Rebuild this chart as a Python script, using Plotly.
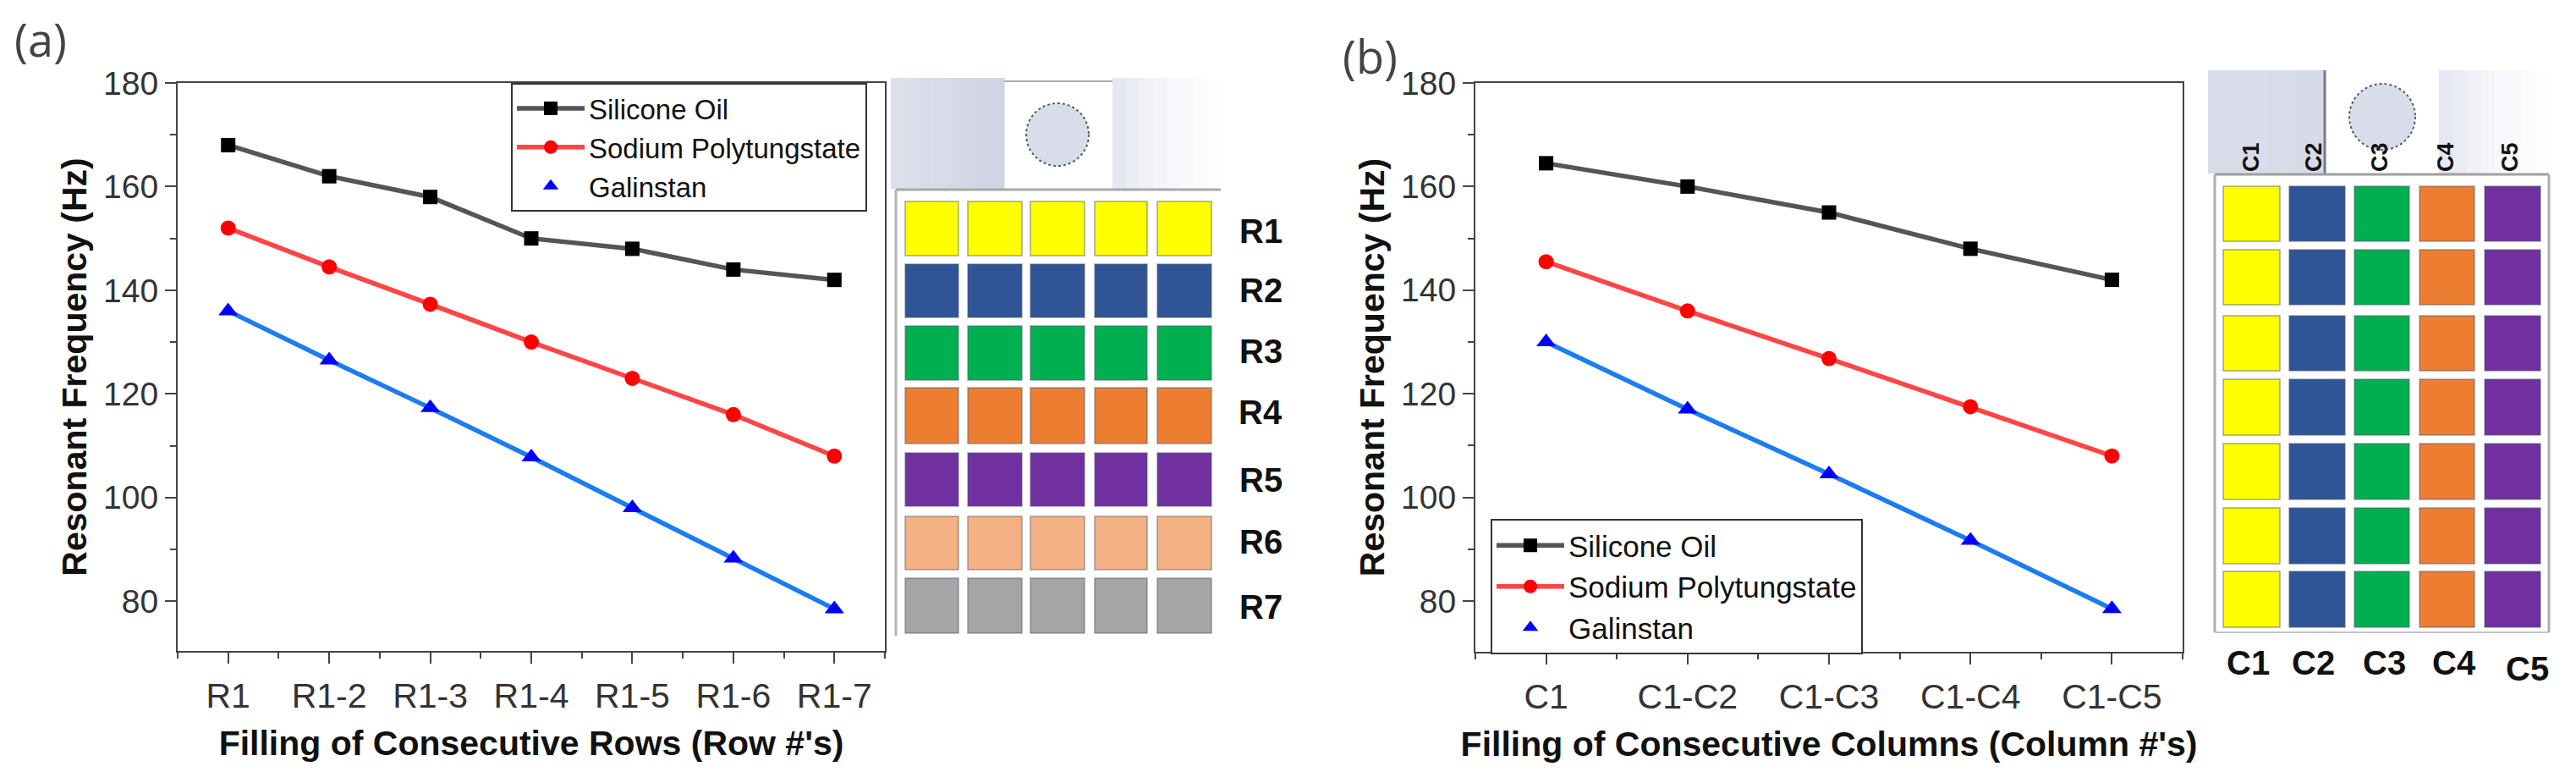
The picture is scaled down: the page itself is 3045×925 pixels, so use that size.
import plotly.graph_objects as go

W, H = 3045, 925

row_labels = ["R1", "R1-2", "R1-3", "R1-4", "R1-5", "R1-6", "R1-7"]
row_silicone = [168, 162, 158, 150, 148, 144, 142]
row_sodium = [152, 144.5, 137.3, 130, 123, 116, 108]
row_galinstan = [136, 126.5, 117.3, 107.8, 98, 88.3, 78.5]

col_labels = ["C1", "C1-C2", "C1-C3", "C1-C4", "C1-C5"]
col_silicone = [164.5, 160, 155, 148, 142]
col_sodium = [145.5, 136, 126.8, 117.5, 108]
col_galinstan = [130, 117, 104.5, 91.7, 78.5]

series_names = ["Silicone Oil", "Sodium Polytungstate", "Galinstan"]
line_colors = ["#555555", "#ff4545", "#1c7cf0"]
marker_colors = ["#000000", "#ff0000", "#0000ff"]
marker_symbols = ["square", "circle", "triangle-up"]
marker_sizes = [17, 18, 20]

y_ticks = [80, 100, 120, 140, 160, 180]
fill_colors = ["#ffff00", "#2f5597", "#00b050", "#ed7d31", "#7030a0", "#f4b183", "#a5a5a5"]

# schematic geometry, in picture pixels
a_col_x = [(1070, 1133), (1144, 1208), (1218, 1282), (1294, 1356), (1368, 1432)]
a_row_y = [(238, 302), (312, 375), (385, 449), (458, 524), (535, 598), (610, 673), (683, 748)]
a_label_y = [273, 343, 415, 487, 567, 640, 717]
b_col_x = [(2628, 2695), (2706, 2772), (2783, 2848), (2860, 2925), (2937, 3003)]
b_row_y = [(220, 285), (295, 360), (373, 438), (448, 514), (524, 590), (600, 666), (675, 741)]
b_top_x = [2661, 2735, 2813, 2891, 2967]
b_bot_x = [2657, 2734, 2818, 2901, 2987]
b_bot_y = [783, 783, 783, 783, 790]
fade = ["#e6e8f1", "#ebedf4", "#f0f1f6", "#f4f5f9", "#f7f8fb", "#fafafc", "#fcfcfe", "#fefeff"]
shade = ["#dde0eb", "#dbdfea", "#dadde9", "#d8dce8", "#d6dae6", "#d4d8e5", "#d2d6e4", "#d0d5e3"]
b_shade = ["#d8dce8", "#d8dce8", "#d9dde9", "#d9dde9", "#d8dce8", "#d8dce8", "#d7dbe7", "#d7dbe7"]


def px(x):
    return x / W


def py(y):
    return 1 - y / H


def rect(x0, y0, x1, y1, fill, line=None, lw=0):
    return dict(type="rect", xref="paper", yref="paper", x0=px(x0), x1=px(x1), y0=py(y1), y1=py(y0),
                fillcolor=fill, line=dict(color=line or fill, width=lw), layer="above")


def seg(x0, y0, x1, y1, color, lw=2):
    return dict(type="line", xref="paper", yref="paper", x0=px(x0), x1=px(x1), y0=py(y0), y1=py(y1),
                line=dict(color=color, width=lw))


def bands(x0, x1, y0, y1, colors):
    step = (x1 - x0) / len(colors)
    return [rect(x0 + i * step, y0, x0 + (i + 1) * step + 0.5, y1, c) for i, c in enumerate(colors)]


def circle(cx, cy, r):
    return dict(type="circle", xref="paper", yref="paper", x0=px(cx - r), x1=px(cx + r), y0=py(cy + r), y1=py(cy - r),
                fillcolor="#d9dde9", line=dict(color="#555a66", width=2, dash="dot"))


def text(x, y, s, size, bold=True, angle=0, color="#111111", family="Liberation Sans"):
    return dict(xref="paper", yref="paper", x=px(x), y=py(y), text=f"<b>{s}</b>" if bold else s, showarrow=False,
                xanchor="center", yanchor="middle", textangle=angle, font=dict(size=size, color=color, family=family))


fig = go.Figure()


def add_series(xs, values, xa, ya, legend):
    for i, ys in enumerate(values):
        mk = dict(color=marker_colors[i], symbol=marker_symbols[i], size=marker_sizes[i])
        if i < 2:
            fig.add_trace(go.Scatter(x=xs, y=ys, mode="lines+markers", name=series_names[i], xaxis=xa, yaxis=ya,
                                     legend=legend, line=dict(color=line_colors[i], width=5.5), marker=mk))
        else:
            fig.add_trace(go.Scatter(x=xs, y=ys, mode="lines", showlegend=False, xaxis=xa, yaxis=ya,
                                     line=dict(color=line_colors[i], width=5.5)))
            fig.add_trace(go.Scatter(x=xs, y=ys, mode="markers", name=series_names[i], xaxis=xa, yaxis=ya,
                                     legend=legend, marker=mk))


add_series(list(range(1, 8)), [row_silicone, row_sodium, row_galinstan], "x", "y", "legend")
add_series(list(range(1, 6)), [col_silicone, col_sodium, col_galinstan], "x2", "y2", "legend2")

font_ytick = dict(size=39, color="#333333", family="Liberation Sans")
font_xtick = dict(size=41, color="#333333", family="Liberation Sans")
font_title = dict(size=41, color="#111111", family="Liberation Sans")
font_ytitle = dict(size=41, color="#111111", family="Liberation Sans")


def xaxis(dom, labels, title):
    n = len(labels)
    return dict(domain=[px(dom[0]), px(dom[1])], range=[0.5, n + 0.5], tickmode="array",
                tickvals=list(range(1, n + 1)), ticktext=labels, ticks="outside", ticklen=13, tickwidth=2,
                tickcolor="#444444", showline=True, linecolor="#444444", linewidth=2, mirror=True, showgrid=False,
                zeroline=False, tickfont=font_xtick, ticklabelstandoff=3,
                minor=dict(tick0=0.5, dtick=1, ticks="outside", ticklen=7, tickwidth=2, tickcolor="#444444", showgrid=False),
                title=dict(text=f"<b>{title}</b>", font=font_title, standoff=19))


def yaxis(dom, low, title, anchor):
    return dict(domain=[py(dom[1]), py(dom[0])], range=[low, 180], tickmode="array", tickvals=y_ticks,
                ticks="outside", ticklen=13, tickwidth=2, tickcolor="#444444", showline=True, linecolor="#444444",
                linewidth=2, mirror=True, showgrid=False, zeroline=False, tickfont=font_ytick, anchor=anchor,
                minor=dict(tick0=0, dtick=10, ticks="outside", ticklen=7, tickwidth=2, tickcolor="#444444", showgrid=False),
                title=dict(text=f"<b>{title}</b>", font=font_ytitle, standoff=7))


shapes = []
# panel (a) schematic
shapes += bands(1053, 1187, 92, 223, shade)
shapes += bands(1315, 1443, 92, 223, fade)
shapes.append(seg(1187, 96, 1315, 96, "#a9abb3", 2))
shapes.append(circle(1250, 159, 37))
shapes.append(seg(1059, 224, 1443, 224, "#a8a8a8", 3))
shapes.append(seg(1059, 224, 1059, 751, "#b4b4b4", 3))
for (y0, y1), c in zip(a_row_y, fill_colors):
    for x0, x1 in a_col_x:
        shapes.append(rect(x0, y0, x1, y1, c, "rgba(90,95,115,0.55)", 1.5))
# panel (b) schematic
shapes += bands(2610, 2748, 83, 205, b_shade)
shapes.append(seg(2748, 83, 2748, 205, "#77797f", 3))
shapes += bands(2883, 3015, 83, 205, fade)
shapes.append(circle(2816, 138, 39))
shapes.append(seg(2618, 206, 3013, 206, "#a0a0a0", 3))
shapes.append(seg(2618, 206, 2618, 747, "#b0b0b0", 3))
shapes.append(seg(3013, 206, 3013, 747, "#b0b0b0", 3))
shapes.append(seg(2618, 747, 3013, 747, "#c4c4c4", 2))
for (y0, y1) in b_row_y:
    for (x0, x1), c in zip(b_col_x, fill_colors[:5]):
        shapes.append(rect(x0, y0, x1, y1, c, "rgba(90,95,115,0.55)", 1.5))

ann = [text(48, 46, "(a)", 54, bold=False, color="#444444", family="Open Sans"),
       text(1619, 66, "(b)", 54, bold=False, color="#444444", family="Open Sans")]
for i, yc in enumerate(a_label_y):
    ann.append(text(1490, yc, f"R{i + 1}", 40))
for i, x in enumerate(b_top_x):
    ann.append(text(x, 186, f"C{i + 1}", 27, angle=-90))
for i, (x, y) in enumerate(zip(b_bot_x, b_bot_y)):
    ann.append(text(x, y, f"C{i + 1}", 40))

leg_common = dict(xanchor="left", yanchor="top", bgcolor="rgba(255,255,255,1)", bordercolor="#333333", borderwidth=2,
                  itemwidth=80, itemsizing="trace", traceorder="normal", entrywidthmode="pixels")

fig.update_layout(
    width=W, height=H, margin=dict(l=0, r=0, t=0, b=0, pad=0, autoexpand=False), paper_bgcolor="white", plot_bgcolor="white",
    font=dict(family="Liberation Sans"), hovermode=False,
    xaxis=xaxis((210, 1046), row_labels, "Filling of Consecutive Rows (Row #'s)"),
    yaxis=yaxis((98, 769), 70.4, "Resonant Frequency (Hz)", "x"),
    xaxis2=dict(xaxis((1744, 2580), col_labels, "Filling of Consecutive Columns (Column #'s)"), anchor="y2"),
    yaxis2=yaxis((98, 770), 70.2, "Resonant Frequency (Hz)", "x2"),
    legend=dict(leg_common, x=px(604), y=py(98), font=dict(size=33, color="#111111", family="Liberation Sans"), entrywidth=368),
    legend2=dict(leg_common, x=px(1762), y=py(613), font=dict(size=35, color="#111111", family="Liberation Sans"), entrywidth=435),
    shapes=shapes, annotations=ann,
)

fig.write_html("out.html", config={"displayModeBar": False},
               post_script="document.body.style.margin='0';document.body.style.overflow='hidden';")
